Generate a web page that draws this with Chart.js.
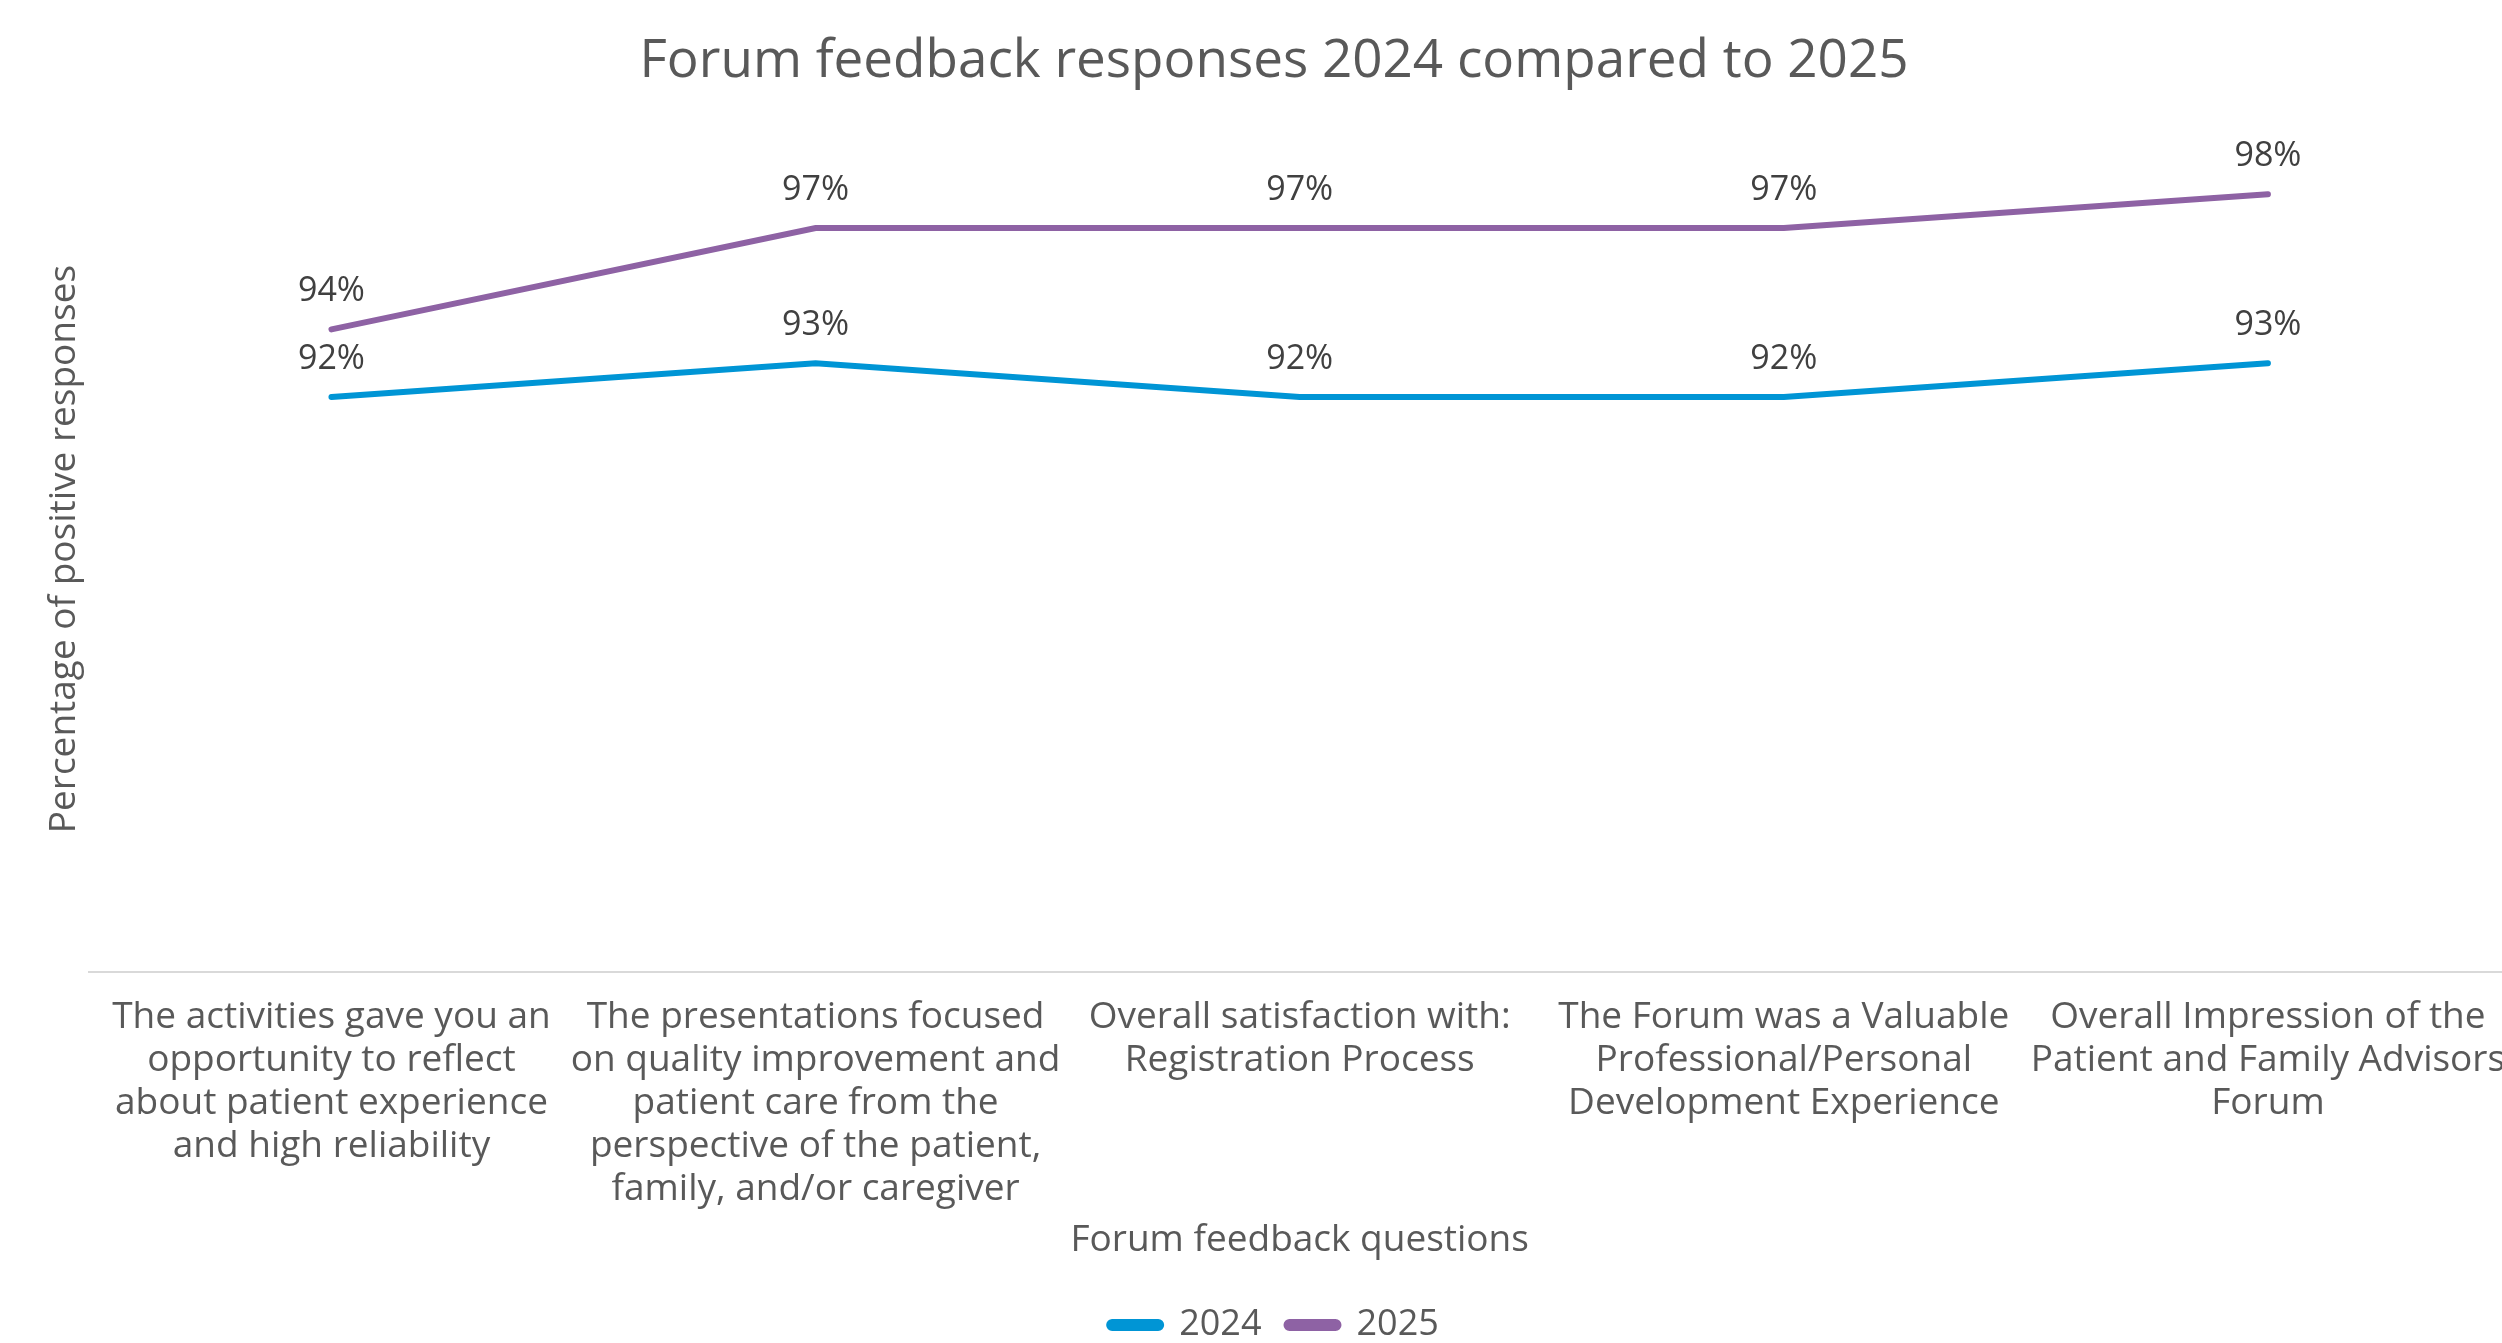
<!DOCTYPE html>
<html>
<head>
<meta charset="utf-8">
<script src="https://cdn.jsdelivr.net/npm/chart.js@4.4.1/dist/chart.umd.min.js"></script>
<style>
  html, body { margin: 0; padding: 0; background: #fff; overflow: hidden; }
  /* slightly wider than the window: the plot runs past the right edge like the original */
  .chart-container { width: 2510px; height: 1343px; position: relative; }
</style>
</head>
<body>
<div class="chart-container">
  <canvas id="feedbackChart"></canvas>
</div>
<script>
const questionLabels = [
  ['The activities gave you an', 'opportunity to reflect', 'about patient experience', 'and high reliability'],
  ['The presentations focused', 'on quality improvement and', 'patient care from the', 'perspective of the patient,', 'family, and/or caregiver'],
  ['Overall satisfaction with:', 'Registration Process'],
  ['The Forum was a Valuable', 'Professional/Personal', 'Development Experience'],
  ['Overall Impression of the', 'Patient and Family Advisors', 'Forum']
];
const seriesNames = ['2024', '2025'];
const values2024 = [92, 93, 92, 92, 93];
const values2025 = [94, 97, 97, 97, 98];

const FONT = '"Open Sans", Lato, sans-serif';
const textGrey = '#595959';

// percentage labels drawn above every point
const pointLabels = {
  id: 'pointLabels',
  afterDatasetsDraw(chart) {
    const ctx = chart.ctx;
    ctx.save();
    ctx.font = '34px ' + FONT;
    ctx.fillStyle = '#404040';
    ctx.textAlign = 'center';
    ctx.textBaseline = 'middle';
    chart.data.datasets.forEach((ds, i) => {
      const meta = chart.getDatasetMeta(i);
      meta.data.forEach((pt, j) => {
        ctx.fillText(ds.data[j] + '%', pt.x, pt.y - 38);
      });
    });
    ctx.restore();
  }
};

new Chart(document.getElementById('feedbackChart'), {
  type: 'line',
  data: {
    labels: questionLabels,
    datasets: [
      {
        label: seriesNames[0],
        data: values2024,
        borderColor: '#0095D5',
        backgroundColor: '#0095D5',
        borderWidth: 6,
        borderCapStyle: 'round',
        pointRadius: 0,
        tension: 0
      },
      {
        label: seriesNames[1],
        data: values2025,
        borderColor: '#8E62A4',
        backgroundColor: '#8E62A4',
        borderWidth: 6,
        borderCapStyle: 'round',
        pointRadius: 0,
        tension: 0
      }
    ]
  },
  options: {
    responsive: true,
    maintainAspectRatio: false,
    animation: false,
    layout: { padding: { left: 38, right: 0, top: 30, bottom: -10 } },
    plugins: {
      title: {
        display: true,
        text: 'Forum feedback responses 2024 compared to 2025',
        color: textGrey,
        font: { family: FONT, size: 53, weight: 'normal' },
        padding: { top: 0, bottom: 33 }
      },
      legend: {
        position: 'bottom',
        labels: {
          color: textGrey,
          font: { family: FONT, size: 36 },
          boxWidth: 52,
          boxHeight: 6,
          useBorderRadius: true,
          borderRadius: 3,
          padding: 25
        }
      },
      tooltip: { enabled: false }
    },
    scales: {
      x: {
        offset: true,
        grid: { display: false, drawTicks: false },
        border: { display: true, color: '#d9d9d9', width: 2 },
        ticks: {
          color: textGrey,
          font: { family: FONT, size: 37, lineHeight: 43 / 37 },
          maxRotation: 0,
          minRotation: 0,
          autoSkip: false,
          padding: 24
        },
        // let the long labels run off the edge instead of shrinking the plot
        afterFit: (scale) => {
          scale.paddingLeft = 0;
          scale.paddingRight = 0;
        },
        title: {
          display: true,
          text: 'Forum feedback questions',
          color: textGrey,
          font: { family: FONT, size: 37 },
          padding: { top: -16, bottom: 19 }
        }
      },
      y: {
        min: 75,
        max: 100,
        grid: { display: false, drawTicks: false },
        border: { display: false },
        ticks: { display: false },
        title: {
          display: true,
          text: 'Percentage of positive responses',
          color: textGrey,
          font: { family: FONT, size: 37 },
          padding: { top: 4, bottom: 3 }
        }
      }
    }
  },
  plugins: [pointLabels]
});
</script>
</body>
</html>
